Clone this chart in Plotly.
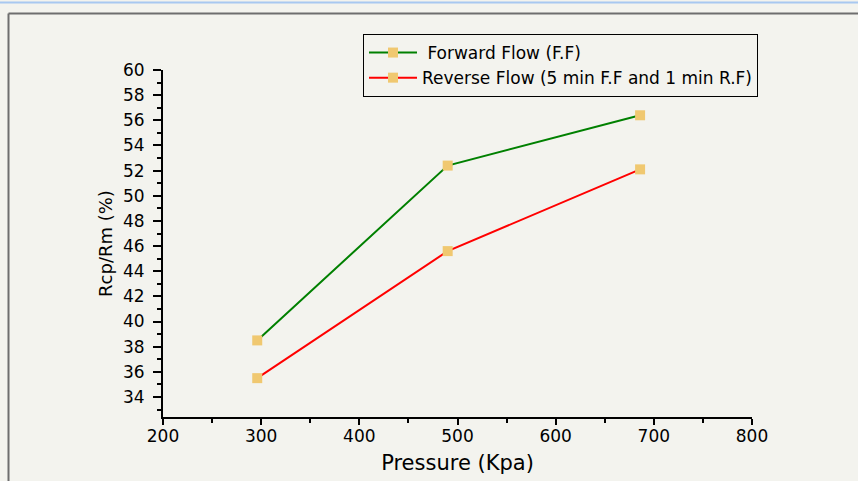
import plotly.graph_objects as go

# Data
pressure_ff = [296, 490, 686]
rcp_ff = [38.5, 52.4, 56.4]
pressure_rf = [296, 490, 686]
rcp_rf = [35.5, 45.6, 52.1]
series_names = [" Forward Flow (F.F)", "Reverse Flow (5 min F.F and 1 min R.F)"]
x_title = "Pressure (Kpa)"
y_title = "Rcp/Rm (%)"

W, H = 858, 481
L, R, T, B = 163, 106, 70, 64
pw, ph = W - L - R, H - T - B

def px_x(p):
    return (p - L) / pw

def px_y(p):
    return (H - B - p) / ph

BG = "#f3f3ee"
MARKER = "#f0c870"
FONT = "DejaVu Sans"

fig = go.Figure()
fig.add_trace(go.Scatter(x=pressure_ff, y=rcp_ff, mode="lines+markers", name=series_names[0],
                         line=dict(color="#008000", width=2),
                         marker=dict(symbol="square", size=10, color=MARKER, line=dict(width=0))))
fig.add_trace(go.Scatter(x=pressure_rf, y=rcp_rf, mode="lines+markers", name=series_names[1],
                         line=dict(color="#ff0000", width=2),
                         marker=dict(symbol="square", size=10, color=MARKER, line=dict(width=0))))

shapes = [
    dict(type="line", xref="paper", yref="paper", x0=px_x(0), x1=px_x(W), y0=px_y(2.5), y1=px_y(2.5),
         line=dict(color="#a8c8f0", width=2)),
    dict(type="line", xref="paper", yref="paper", x0=px_x(8.5), x1=px_x(W + 5), y0=px_y(13.5), y1=px_y(13.5),
         line=dict(color="#6e6e6e", width=2)),
    dict(type="line", xref="paper", yref="paper", x0=px_x(8.5), x1=px_x(8.5), y0=px_y(13.5), y1=px_y(H + 5),
         line=dict(color="#6e6e6e", width=2)),
]

fig.update_layout(
    width=W, height=H,
    margin=dict(l=L, r=R, t=T, b=B, autoexpand=False),
    paper_bgcolor=BG, plot_bgcolor=BG,
    font=dict(family=FONT, color="black", size=17),
    shapes=shapes,
    showlegend=True,
    legend=dict(x=px_x(363), y=px_y(34), xanchor="left", yanchor="top",
                bgcolor=BG, bordercolor="black", borderwidth=1,
                font=dict(family=FONT, size=17, color="black"),
                tracegroupgap=0, itemwidth=48),
    xaxis=dict(range=[200, 800], showline=True, linecolor="black", linewidth=2,
               showgrid=False, zeroline=False, ticks="outside", tickwidth=2, ticklen=6,
               tickcolor="black", dtick=100, tick0=200, ticklabelstandoff=-3,
               tickfont=dict(family=FONT, size=17, color="black"),
               minor=dict(dtick=50, tick0=200, ticks="outside", ticklen=4, tickwidth=2, tickcolor="black"),
               title=dict(text=x_title, font=dict(family=FONT, size=21, color="black"), standoff=10),
               automargin=False),
    yaxis=dict(range=[32.41, 60], showline=True, linecolor="black", linewidth=2,
               showgrid=False, zeroline=False, ticks="outside", tickwidth=2, ticklen=8,
               tickcolor="black", dtick=2, tick0=34, ticklabelstandoff=5,
               tickfont=dict(family=FONT, size=17, color="black"),
               minor=dict(dtick=1, tick0=34, ticks="outside", ticklen=4, tickwidth=2, tickcolor="black"),
               title=dict(text=y_title, font=dict(family=FONT, size=18, color="black"), standoff=6),
               automargin=False),
)

fig.write_html("out.html")
